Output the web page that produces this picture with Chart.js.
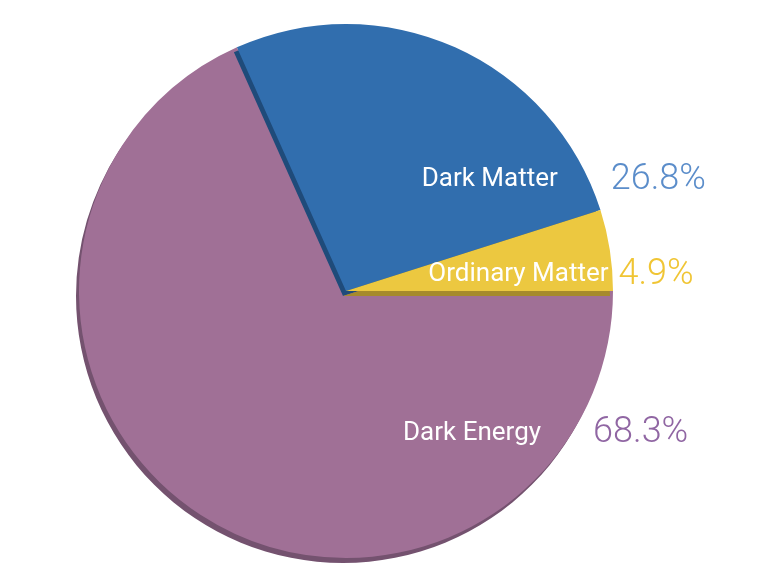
<!DOCTYPE html>
<html>
<head>
<meta charset="utf-8">
<script src="https://cdn.jsdelivr.net/npm/chart.js@4"></script>
<style>
    body { margin: 0; background: #ffffff; }
    #wrap { width: 758px; height: 577px; }
</style>
</head>
<body>
<div id="wrap"><canvas id="universe-chart"></canvas></div>
<script>
// Composition of the universe
const categories = ['Dark Energy', 'Dark Matter', 'Ordinary Matter'];
const shares = [68.3, 26.8, 4.9];
const percentLabels = ['68.3%', '26.8%', '4.9%'];

const sliceColors = ['#a07096', '#316eae', '#ecc840'];
const shadowColors = ['#74526f', '#1f4b7a', '#a68a2c'];
const percentColors = ['#9066a3', '#5b8dca', '#f0c534'];

// where each label sits: vertical offset as fraction of radius, gaps from the rim
const labelPlacement = [
    { dy: 0.532, inGap: 31, outGap: 21 },
    { dy: -0.416, inGap: 31, outGap: 22 },
    { dy: -0.06, inGap: 4, outGap: 6 }
];

// draws each slice with its dark extruded edge, then the slice itself
const extrudePlugin = {
    id: 'extrude',
    beforeDatasetDraw(chart, args) {
        const ctx = chart.ctx;
        const meta = args.meta;
        meta.data.forEach((arc, i) => {
            const p = arc.getProps(['x', 'y', 'startAngle', 'endAngle', 'outerRadius']);
            ctx.save();
            ctx.translate(-3, 5);
            ctx.beginPath();
            ctx.moveTo(p.x, p.y);
            ctx.arc(p.x, p.y, p.outerRadius, p.startAngle, p.endAngle);
            ctx.closePath();
            ctx.fillStyle = shadowColors[i];
            ctx.fill();
            ctx.restore();
            arc.draw(ctx);
        });
        return false;
    }
};

const labelPlugin = {
    id: 'sliceLabels',
    afterDatasetsDraw(chart) {
        const ctx = chart.ctx;
        const meta = chart.getDatasetMeta(0);
        meta.data.forEach((arc, i) => {
            const p = arc.getProps(['x', 'y', 'outerRadius']);
            const place = labelPlacement[i];
            const dy = place.dy * p.outerRadius;
            const rimX = p.x + Math.sqrt(p.outerRadius * p.outerRadius - dy * dy);
            const y = p.y + dy;
            ctx.save();
            ctx.textBaseline = 'middle';
            ctx.font = '26px Roboto';
            ctx.fillStyle = '#ffffff';
            ctx.textAlign = 'right';
            ctx.fillText(categories[i], rimX - place.inGap, y);
            ctx.font = '300 36px Roboto';
            ctx.fillStyle = percentColors[i];
            ctx.textAlign = 'left';
            ctx.fillText(percentLabels[i], rimX + place.outGap, y);
            ctx.restore();
        });
    }
};

new Chart(document.getElementById('universe-chart').getContext('2d'), {
    type: 'pie',
    data: {
        labels: categories,
        datasets: [{
            data: shares,
            backgroundColor: sliceColors,
            borderWidth: 0
        }]
    },
    options: {
        responsive: true,
        maintainAspectRatio: false,
        animation: false,
        rotation: 90,
        layout: {
            padding: { top: 24, bottom: 19, left: 1, right: 67 }
        },
        plugins: {
            legend: { display: false },
            tooltip: { enabled: false }
        }
    },
    plugins: [extrudePlugin, labelPlugin]
});
</script>
</body>
</html>
